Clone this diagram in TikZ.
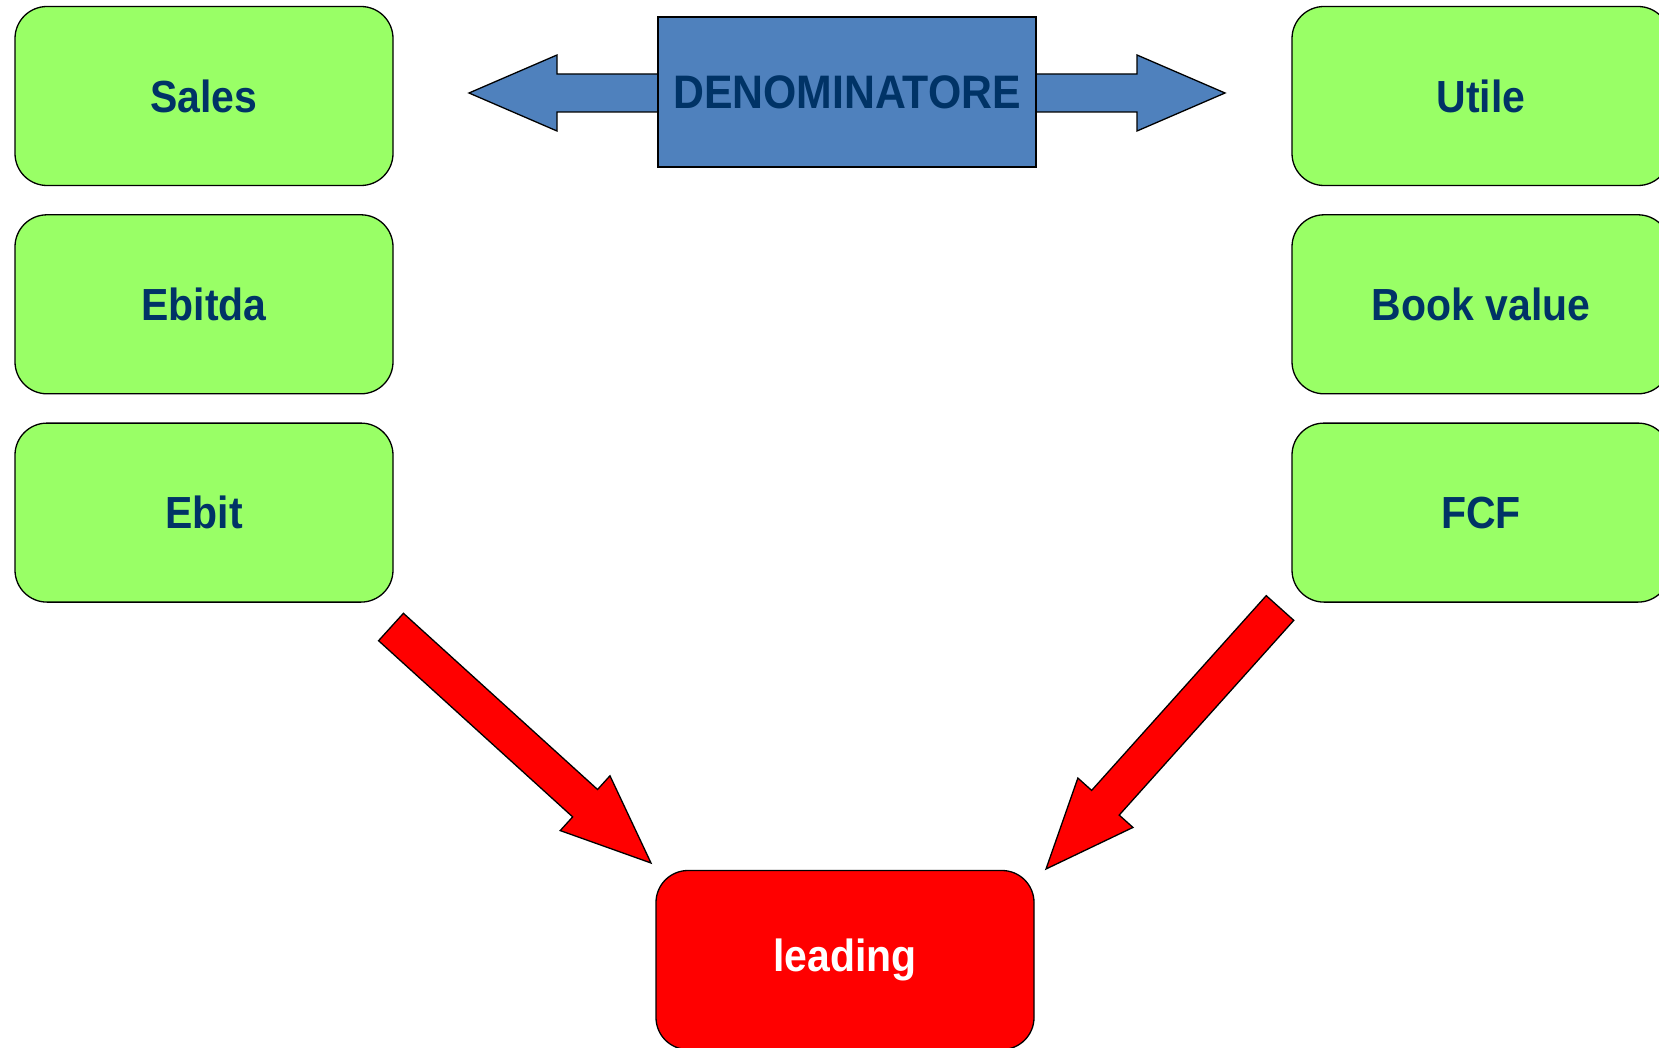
\documentclass[tikz,border=0pt]{standalone}
\usepackage{fontspec}
\setmainfont{Liberation Sans}[FakeStretch=0.91]
\usetikzlibrary{calc,positioning}
\definecolor{boxgreen}{HTML}{99FF66}
\definecolor{arrowblue}{HTML}{4F81BD}
\definecolor{textnavy}{HTML}{003366}
% block arrow from tail #2 to tip #3
\newcommand{\blockarrow}[3][]{%
  \coordinate (hb) at ($(#3)!89pt!(#2)$);
  \draw[#1] ($(#2)!18.5pt!90:(#3)$) -- ($(hb)!18.5pt!90:(#3)$)
    -- ($(hb)!37pt!90:(#3)$) -- (#3) -- ($(hb)!37pt!-90:(#3)$)
    -- ($(hb)!18.5pt!-90:(#3)$) -- ($(#2)!18.5pt!-90:(#3)$) -- cycle;}

\begin{document}
\begin{tikzpicture}[x=1pt,y=-1pt,line width=1.3pt,node distance=28pt,
  metric/.style={draw,fill=boxgreen,rounded corners=32pt,minimum width=378pt,
    minimum height=179pt,inner sep=0pt,text=textnavy,
    font=\fontsize{45}{54}\selectfont\bfseries},
  bluebox/.style={draw,fill=arrowblue,line join=miter},
  redarrow/.style={draw,fill=red,line join=miter}]
\useasboundingbox (0,0) rectangle (1659,1048);
% ---------- left column ----------
\node[metric] (sales) at (204,96) {Sales};
\node[metric,below=of sales] (ebitda) {Ebitda};
\node[metric,below=of ebitda] (ebit) {Ebit};
% ---------- right column ----------
\node[metric] (utile) at (1481,96) {Utile};
\node[metric,below=of utile] (book) {Book value};
\node[metric,below=of book] (fcf) {FCF};
% ---------- denominatore ----------
\draw[bluebox] (469,93) -- (557,55) -- (557,74) -- (1137,74) -- (1137,55)
  -- (1225,93) -- (1137,131) -- (1137,112) -- (557,112) -- (557,131) -- cycle;
\node[bluebox,minimum width=378pt,minimum height=150pt,inner sep=0pt,
  text=textnavy,font=\fontsize{47}{56}\selectfont\bfseries] (denom) at (847,92)
  {DENOMINATORE};
% ---------- leading ----------
\node[metric,fill=red,text=white] (leading) at (845,960) {leading};
\coordinate (ltail) at (391,627);
\coordinate (ltip) at (651,863);
\coordinate (rtail) at (1280,608);
\coordinate (rtip) at (1046,869);
\blockarrow[redarrow]{ltail}{ltip}
\blockarrow[redarrow]{rtail}{rtip}
\end{tikzpicture}
\end{document}
